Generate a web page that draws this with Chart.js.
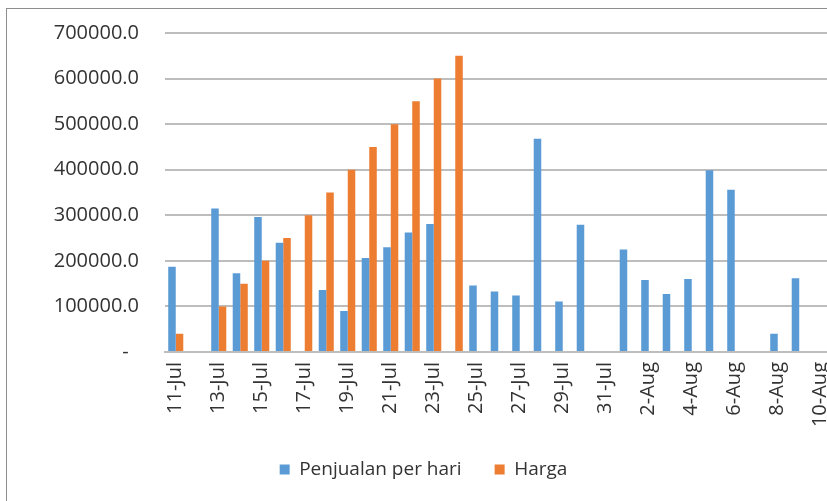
<!DOCTYPE html>
<html>
<head>
<meta charset="utf-8">
<script src="https://cdn.jsdelivr.net/npm/chart.js@4/dist/chart.umd.min.js"></script>
<style>
html,body{margin:0;padding:0;background:#fff;overflow:hidden;width:827px;height:501px;}
#frame{position:absolute;left:6px;top:8px;width:900px;height:600px;border-left:1px solid #8e8e8e;border-top:1px solid #8e8e8e;}
#wrap{position:absolute;left:7px;top:9px;width:833px;height:480px;}
</style>
</head>
<body>
<div id="frame"></div>
<div id="wrap"><canvas id="c" width="833" height="480"></canvas></div>
<script>
const categories = ["11-Jul","12-Jul","13-Jul","14-Jul","15-Jul","16-Jul","17-Jul","18-Jul","19-Jul","20-Jul",
  "21-Jul","22-Jul","23-Jul","24-Jul","25-Jul","26-Jul","27-Jul","28-Jul","29-Jul","30-Jul","31-Jul",
  "1-Aug","2-Aug","3-Aug","4-Aug","5-Aug","6-Aug","7-Aug","8-Aug","9-Aug","10-Aug"];
const penjualanPerHari = [187000,null,315000,173000,296000,240000,null,136000,90000,206000,
  230000,262000,281000,null,146000,133000,124000,468000,111000,279000,null,
  225000,158000,127000,160000,399000,356000,null,40000,162000,null];
const harga = [40000,null,100000,150000,200000,250000,300000,350000,400000,450000,
  500000,550000,600000,650000,null,null,null,null,null,null,null,
  null,null,null,null,null,null,null,null,null,null];
const seriesNames = ["Penjualan per hari","Harga"];
const yMin = 0, yMax = 700000, yStep = 100000;

const textColor = '#333333';
const gridColor = '#bdbdbd';

new Chart(document.getElementById('c'), {
  type: 'bar',
  data: {
    labels: categories,
    datasets: [
      { label: seriesNames[0], data: penjualanPerHari, backgroundColor: '#5B9BD5', borderWidth: 0 },
      { label: seriesNames[1], data: harga, backgroundColor: '#ED7D31', borderWidth: 0 }
    ]
  },
  options: {
    responsive: false,
    animation: false,
    devicePixelRatio: 1,
    layout: { padding: { top: 24, right: 0, left: 0, bottom: 0 } },
    datasets: { bar: { categoryPercentage: 0.70, barPercentage: 1.0 } },
    plugins: {
      legend: {
        position: 'bottom',
        labels: {
          boxWidth: 10, boxHeight: 10, padding: 33,
          color: textColor,
          font: { family: "'Open Sans', sans-serif", size: 19 }
        }
      },
      tooltip: { enabled: false }
    },
    scales: {
      x: {
        offset: true,
        grid: { display: false, drawTicks: false },
        border: { display: true, color: gridColor, width: 2 },
        ticks: {
          autoSkip: false, minRotation: 90, maxRotation: 90, padding: 10,
          color: textColor,
          font: { family: "'Open Sans', sans-serif", size: 20 },
          callback: function(v, i) { return i % 2 === 0 ? categories[i] : ''; }
        },
        afterFit: function(s) { s.height = 75; s.paddingRight = 8.5; s.paddingLeft = 0; }
      },
      y: {
        min: yMin, max: yMax,
        grid: { color: gridColor, lineWidth: 2, drawTicks: false },
        border: { display: false },
        ticks: {
          stepSize: yStep, padding: 26,
          color: textColor,
          font: { family: "'Open Sans', sans-serif", size: 20 },
          callback: function(v) { return v === 0 ? '-  ' : v.toFixed(1); }
        },
        afterFit: function(s) { s.width = 158; s.paddingTop = 0; s.paddingBottom = 0; }
      }
    }
  }
});
</script>
</body>
</html>
